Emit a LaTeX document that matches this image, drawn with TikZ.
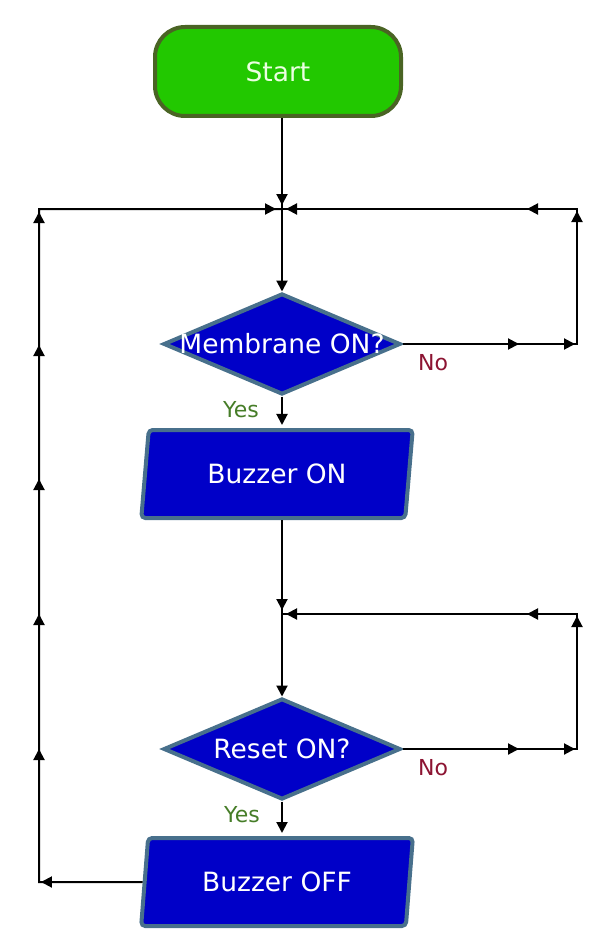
\documentclass[tikz,border=0pt]{standalone}
\usepackage{fontspec}
\setmainfont{DejaVu Sans}
\usetikzlibrary{shapes.geometric,arrows.meta,decorations.markings}

\definecolor{startgreen}{RGB}{34,200,0}
\definecolor{startedge}{RGB}{74,100,36}
\definecolor{starttext}{RGB}{235,255,225}
\definecolor{boxblue}{RGB}{0,0,200}
\definecolor{boxedge}{RGB}{72,112,140}
\definecolor{yesgreen}{RGB}{70,125,40}
\definecolor{nored}{RGB}{140,20,50}

\tikzset{
    line/.style={line width=2pt, black},
    flow/.style={line, -{Triangle[length=11pt,width=11pt]}},
    tip at/.style={postaction={decorate, decoration={markings,
        mark=at position #1 with {\arrow{Triangle[length=11pt,width=11pt]}}}}},
    bigtext/.style={font=\fontsize{26.5}{30}\selectfont},
    startbox/.style={bigtext, rectangle, rounded corners=30pt, draw=startedge, fill=startgreen,
        line width=4pt, minimum width=246pt, minimum height=89pt, text=starttext},
    decision/.style={bigtext, diamond, draw=boxedge, fill=boxblue, line width=4pt,
        minimum width=237pt, minimum height=101pt, inner sep=0pt, text=white},
    iobox/.style={bigtext, trapezium, trapezium left angle=81, trapezium right angle=99,
        trapezium stretches=true, rounded corners=4pt, draw=boxedge, fill=boxblue,
        line width=4pt, minimum width=272pt, minimum height=88pt, text=white},
    yeslabel/.style={font=\fontsize{22}{26}\selectfont, text=yesgreen, inner sep=0pt},
    nolabel/.style={font=\fontsize{22}{26}\selectfont, text=nored, inner sep=0pt},
}

\begin{document}
\begin{tikzpicture}[x=1pt, y=-1pt]
            \useasboundingbox (0,0) rectangle (603,947);
            \coordinate (jtop) at (282,209);
            \coordinate (jtopl) at (39,209);
            \coordinate (jtopr) at (577,209);
            \coordinate (no1) at (577,344);
            \coordinate (jmid) at (282,614);
            \coordinate (jmidr) at (577,614);
            \coordinate (no2) at (577,749);
            \coordinate (back) at (39,882);

            \node[startbox] (start) at (278,71.5) {Start};
            \node[decision] (memb) at (282,344) {\makebox[0pt]{Membrane ON?}};
            \node[iobox] (bzon) at (277,474) {Buzzer ON};
            \node[decision] (reset) at (282,749) {\makebox[0pt]{Reset ON?}};
            \node[iobox] (bzoff) at (277,882) {Buzzer OFF};

            \node[yeslabel] (yes1) at (241,410) {Yes};
            \node[nolabel] (nolab1) at (433,363) {No};
            \node[yeslabel] (yes2) at (242,815) {Yes};
            \node[nolabel] (nolab2) at (433,768) {No};

            \draw[line, tip at=-4pt] (start.south -| jtop) -- (jtop);
            \draw[flow] (jtop) -- (memb.north);
            \draw[line, tip at=-488pt, tip at=-432pt, tip at=-297pt, tip at=-245pt, tip at=-4pt]
                (memb.east) -- (no1) -- (jtopr) -- (jtop);
            \draw[flow, shorten >=3pt] (memb.south) -- (memb.south |- bzon.north);

            \draw[line, tip at=-4pt] (bzon.south -| jmid) -- (jmid);
            \draw[flow] (jmid) -- (reset.north);
            \draw[line, tip at=-488pt, tip at=-432pt, tip at=-297pt, tip at=-245pt, tip at=-4pt]
                (reset.east) -- (no2) -- (jmidr) -- (jmid);
            \draw[flow, shorten >=3pt] (reset.south) -- (reset.south |- bzoff.north);

            \draw[line, tip at=-918pt, tip at=-783pt, tip at=-648pt, tip at=-513pt,
                tip at=-379pt, tip at=-246pt, tip at=-6pt]
                (bzoff.west) -- (back) -- (jtopl) -- (jtop);
\end{tikzpicture}
\end{document}
